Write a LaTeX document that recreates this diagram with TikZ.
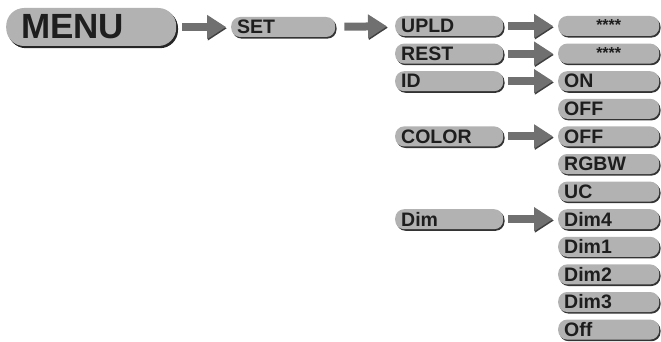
\documentclass[tikz,border=0pt]{standalone}
\usepackage{fontspec}
\setmainfont{Liberation Sans}
\usetikzlibrary{arrows.meta,shadows}
\definecolor{boxgray}{RGB}{178,178,178}
\definecolor{arrgray}{RGB}{112,112,112}
\definecolor{inkgray}{RGB}{30,30,30}
\tikzset{
  itembox/.style={draw=none, fill=boxgray, rounded corners=9pt, anchor=west,
    minimum height=20pt, inner xsep=6pt, inner ysep=0pt, text height=13.6pt, text depth=0pt,
    text=inkgray, font=\fontsize{19.5}{19.5}\bfseries\selectfont, align=left,
    drop shadow={shadow xshift=1.3pt, shadow yshift=-1.6pt, fill=black!80, opacity=1}},
  midbox/.style={itembox, text width=96pt},
  valbox/.style={itembox, text width=89pt, inner xsep=6pt},
  starbox/.style={valbox, align=center, font=\fontsize{16}{16}\bfseries\selectfont, text height=9pt},
  menubox/.style={itembox, rounded corners=18pt, minimum height=38pt, text height=24pt,
    inner xsep=15pt, text width=140pt, font=\fontsize{35}{35}\bfseries\selectfont,
    drop shadow={shadow xshift=1.8pt, shadow yshift=-2.2pt, fill=black!85, opacity=1}},
  arr/.style={draw=arrgray, line width=8pt, -{Triangle[length=19pt,width=23pt]},
    shorten <=5pt, shorten >=5pt,
    preaction={draw=black!75, transform canvas={shift={(0.9pt,-1.3pt)}}}}
}
\begin{document}
\begin{tikzpicture}[x=1pt,y=-1pt]
\useasboundingbox (0,0) rectangle (661,342);
% main level
\node[menubox] (menu) at (6,27) {MENU};
\node[itembox, text width=92pt] (set) at (231,27) {SET};
% set menu
\node[midbox] (upld) at (395,26) {UPLD};
\node[midbox] (rest) at (395,53.6) {REST};
\node[midbox] (id) at (395,81.2) {ID};
\node[midbox] (color) at (395,136.4) {COLOR};
\node[midbox] (dim) at (395,219.2) {Dim};
% values
\node[starbox] (upldval) at (558,26) {****};
\node[starbox] (restval) at (558,53.6) {****};
\node[valbox] (idon) at (558,81.2) {ON};
\node[valbox] (idoff) at (558,108.8) {OFF};
\node[valbox] (coloroff) at (558,136.4) {OFF};
\node[valbox] (rgbw) at (558,164) {RGBW};
\node[valbox] (uc) at (558,191.6) {UC};
\node[valbox] (dimfour) at (558,219.2) {Dim4};
\node[valbox] (dimone) at (558,246.8) {Dim1};
\node[valbox] (dimtwo) at (558,274.4) {Dim2};
\node[valbox] (dimthree) at (558,302) {Dim3};
\node[valbox] (dimoff) at (558,329.6) {Off};
% arrows
\draw[arr, shorten <=6pt] (menu) -- (set);
\draw[arr, shorten <=9pt, shorten >=8pt] (set) -- (upld);
\draw[arr] (upld) -- (upldval);
\draw[arr] (rest) -- (restval);
\draw[arr] (id) -- (idon);
\draw[arr] (color) -- (coloroff);
\draw[arr] (dim) -- (dimfour);
\end{tikzpicture}
\end{document}
